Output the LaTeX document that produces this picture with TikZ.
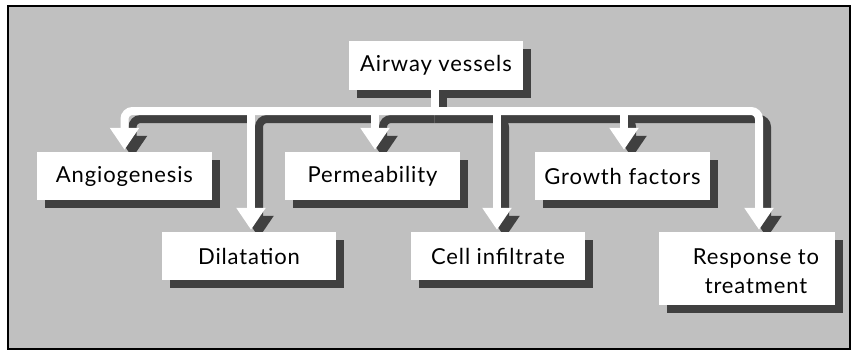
\documentclass[tikz,border=0pt]{standalone}
\usepackage{fontspec}
\setmainfont{Lato}[LetterSpace=4]
\usetikzlibrary{arrows.meta,shadows}
\definecolor{bggray}{HTML}{C0C0C0}
\definecolor{shade}{HTML}{404040}
\pgfdeclarelayer{bg}
\pgfdeclarelayer{sh}
\pgfsetlayers{bg,sh,main}
\begin{document}
\begin{tikzpicture}[x=1pt,y=-1pt,
  box/.style={fill=white,draw=none,inner sep=0pt,
    font=\fontsize{22}{28.5}\selectfont,
    drop shadow={shadow xshift=8pt,shadow yshift=-8pt,fill=shade,opacity=1,draw=none}},
  txt/.style={inner sep=0pt,font=\fontsize{22}{28.5}\selectfont,align=center},
  wline/.style={draw=white,line width=8pt,rounded corners=8pt},
  sline/.style={draw=shade,line width=8pt,rounded corners=8pt},
  wtip/.style={-{Triangle[width=28pt,length=22pt]}},
]
\useasboundingbox (0,0) rectangle (856,359);
\begin{pgfonlayer}{bg}
  \fill[white] (0,0) rectangle (856,359);
  \fill[bggray] (8,6) rectangle (850,349);
  \draw[black,line width=2pt] (8,6) rectangle (850,349);
\end{pgfonlayer}

% boxes
\node[box,minimum width=174pt,minimum height=49pt] (air) at (436,65.5) {Airway vessels};
\node[box,minimum width=175pt,minimum height=48pt] (ang) at (124.5,176) {Angiogenesis};
\node[box,minimum width=175pt,minimum height=48pt] (perm) at (372.5,176) {Permeability};
\node[box,minimum width=175pt,minimum height=48pt] (grow) at (622.5,176) {Growth factors};
\node[box,minimum width=174pt,minimum height=48pt] (dil) at (249,256) {Dilatation};
\node[box,minimum width=174pt,minimum height=48pt] (cell) at (498,256) {Cell infiltrate};
\node[box,minimum width=176pt,minimum height=73pt] (resp) at (747,268.5) {};
\node[txt] (resptext) at (756,271) {Response to\\treatment};

% junction points and drop positions
\coordinate (j) at ([xshift=-1.5pt]air.south |- 0,111);
\coordinate (ax) at ([yshift=2pt]ang.north);
\coordinate (px) at ([xshift=2.5pt,yshift=2pt]perm.north);
\coordinate (gx) at ([xshift=1.5pt,yshift=2pt]grow.north);
\coordinate (dx) at ([xshift=2pt,yshift=2pt]dil.north);
\coordinate (cx) at ([xshift=-1pt,yshift=2pt]cell.north);
\coordinate (rx) at ([xshift=12pt,yshift=2pt]resp.north);

% connector shadows
\begin{pgfonlayer}{sh}
  \draw[sline] ([xshift=8pt]air.south -| j) -- ([xshift=8pt,yshift=-8pt]j);
  \draw[sline,wtip] ([yshift=-8pt]j) -- ([xshift=8pt,yshift=-8pt]j -| px) -- ([xshift=8pt,yshift=-8pt]px);
  \draw[sline,wtip] ([yshift=-8pt]j -| px) -- ([xshift=8pt,yshift=-8pt]j -| dx) -- ([xshift=8pt,yshift=-8pt]dx);
  \draw[sline,wtip] ([yshift=-8pt]j -| dx) -- ([xshift=8pt,yshift=-8pt]j -| ax) -- ([xshift=8pt,yshift=-8pt]ax);
  \draw[sline,wtip] ([yshift=-8pt]j) -- ([xshift=8pt,yshift=-8pt]j -| cx) -- ([xshift=8pt,yshift=-8pt]cx);
  \draw[sline,wtip] ([yshift=-8pt]j -| cx) -- ([xshift=8pt,yshift=-8pt]j -| gx) -- ([xshift=8pt,yshift=-8pt]gx);
  \draw[sline,wtip] ([yshift=-8pt]j -| gx) -- ([xshift=8pt,yshift=-8pt]j -| rx) -- ([xshift=8pt,yshift=-8pt]rx);
\end{pgfonlayer}

% white connectors
\draw[wline] (air.south -| j) -- (j);
\draw[wline,{Triangle[width=28pt,length=22pt]}-{Triangle[width=28pt,length=22pt]}]
  (ax) -- (j -| ax) -- (j -| rx) -- (rx);
\draw[wline,wtip] (j -| px) -- (px);
\draw[wline,wtip] (j -| dx) -- (dx);
\draw[wline,wtip] (j -| cx) -- (cx);
\draw[wline,wtip] (j -| gx) -- (gx);
\end{tikzpicture}
\end{document}
